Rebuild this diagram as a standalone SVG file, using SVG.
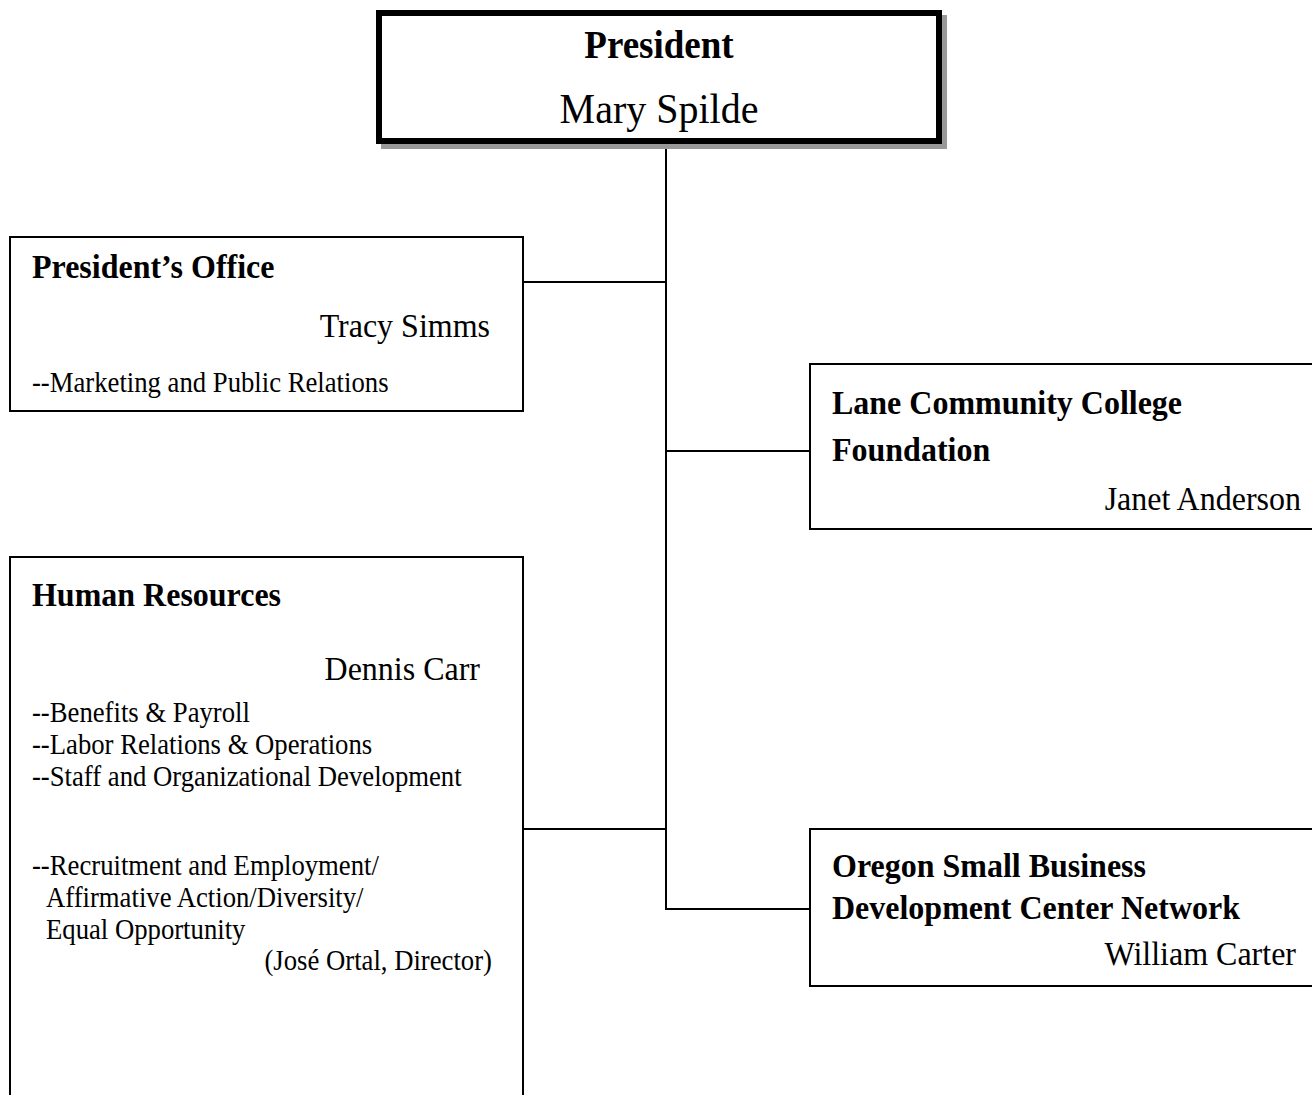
<svg xmlns="http://www.w3.org/2000/svg" width="1312" height="1095" viewBox="0 0 1312 1095">
<style>
.box{fill:#fff;stroke:#000;stroke-width:2}
.t{font-family:"Liberation Serif","Times New Roman",serif;fill:#000}
.b{font-weight:bold;font-size:32px}
.n{font-size:32px}
.s{font-size:26.7px}
.c{fill:none;stroke:#000;stroke-width:2}
</style>
<rect width="1312" height="1095" fill="#fff"/>
<g id="connectors">
<path class="c" d="M666 144V909H810"/>
<path class="c" d="M523 282H666"/>
<path class="c" d="M666 451H810"/>
<path class="c" d="M523 829H666"/>
</g>
<g id="president">
<rect x="381" y="15" width="566" height="134" fill="#999"/>
<rect x="379" y="13" width="560" height="128" fill="#fff" stroke="#000" stroke-width="6"/>
<text class="t" transform="matrix(1 0 0 1.07 0 -4.06)" x="659" y="58" text-anchor="middle" font-size="37" font-weight="bold">President</text>
<text class="t" transform="matrix(1 0 0 1.07 0 -8.61)" x="659" y="123" text-anchor="middle" font-size="40">Mary Spilde</text>
</g>
<g id="presidents-office">
<rect class="box" x="10" y="237" width="513" height="174"/>
<text class="t b" transform="matrix(1 0 0 1.07 0 -19.46)" x="32" y="278">President’s Office</text>
<text class="t n" transform="matrix(1 0 0 1.07 0 -23.59)" x="490" y="337" text-anchor="end">Tracy Simms</text>
<text class="t s" transform="matrix(1 0 0 1.07 0 -27.44)" x="32" y="392">--Marketing and Public Relations</text>
</g>
<g id="foundation">
<rect class="box" x="810" y="364" width="520" height="165"/>
<text class="t b" transform="matrix(1 0 0 1.07 0 -28.98)" x="832" y="414">Lane Community College</text>
<text class="t b" transform="matrix(1 0 0 1.07 0 -32.27)" x="832" y="461">Foundation</text>
<text class="t n" transform="matrix(1 0 0 1.07 0 -35.7)" x="1301" y="510" text-anchor="end">Janet Anderson</text>
</g>
<g id="human-resources">
<rect class="box" x="10" y="557" width="513" height="560"/>
<text class="t b" transform="matrix(1 0 0 1.07 0 -42.42)" x="32" y="606">Human Resources</text>
<text class="t n" transform="matrix(1 0 0 1.07 0 -47.6)" x="480" y="680" text-anchor="end">Dennis Carr</text>
<text class="t s" transform="matrix(1 0 0 1.07 0 -50.54)" x="32" y="722">--Benefits &amp; Payroll</text>
<text class="t s" transform="matrix(1 0 0 1.07 0 -52.78)" x="32" y="754">--Labor Relations &amp; Operations</text>
<text class="t s" transform="matrix(1 0 0 1.07 0 -55.02)" x="32" y="786">--Staff and Organizational Development</text>
<text class="t s" transform="matrix(1 0 0 1.07 0 -61.25)" x="32" y="875">--Recruitment and Employment/</text>
<text class="t s" transform="matrix(1 0 0 1.07 0 -63.49)" x="46" y="907">Affirmative Action/Diversity/</text>
<text class="t s" transform="matrix(1 0 0 1.07 0 -65.73)" x="46" y="939">Equal Opportunity</text>
<text class="t s" transform="matrix(1 0 0 1.07 0 -67.9)" x="492" y="970" text-anchor="end">(José Ortal, Director)</text>
</g>
<g id="osbdc">
<rect class="box" x="810" y="829" width="520" height="157"/>
<text class="t b" transform="matrix(1 0 0 1.07 0 -61.39)" x="832" y="877">Oregon Small Business</text>
<text class="t b" transform="matrix(1 0 0 1.07 0 -64.33)" x="832" y="919">Development Center Network</text>
<text class="t n" transform="matrix(1 0 0 1.07 0 -67.55)" x="1296" y="965" text-anchor="end">William Carter</text>
</g>
</svg>
